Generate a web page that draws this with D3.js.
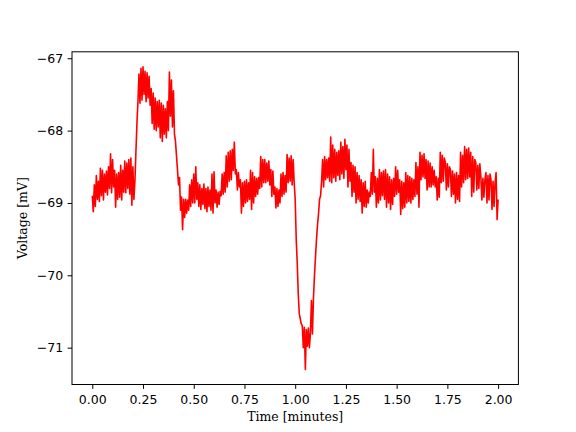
<!DOCTYPE html>
<html>
<head>
<meta charset="utf-8">
<script src="https://cdn.jsdelivr.net/npm/d3@7"></script>
<style>
  html, body { margin: 0; padding: 0; background: #fff; }
  svg { display: block; }
</style>
</head>
<body>
<svg id="chart" width="576" height="432"></svg>
<script>
// ---- data ----
const sampleStep = 0.005; // minutes between samples
const voltage = [
  -68.90,-69.12,-68.75,-69.05,-68.62,-68.95,-68.70,-68.98,-68.52,-68.90,
  -68.55,-68.96,-68.60,-68.85,-68.56,-68.89,-68.50,-68.80,-68.32,-68.86,
  -68.40,-68.78,-68.55,-69.06,-68.60,-68.95,-68.58,-68.92,-68.48,-68.96,
  -68.55,-68.85,-68.42,-68.86,-68.45,-68.80,-68.40,-68.88,-68.38,-69.03,
  -68.50,-68.95,-68.70,-68.30,-67.90,-67.60,-67.22,-67.62,-67.14,-67.58,
  -67.12,-67.50,-67.18,-67.60,-67.20,-67.55,-67.25,-67.65,-67.42,-67.90,
  -67.48,-67.98,-67.55,-68.00,-67.60,-67.95,-67.58,-68.10,-67.62,-68.15,
  -67.65,-68.05,-67.70,-68.10,-67.60,-68.00,-67.19,-67.80,-67.30,-67.95,
  -67.45,-68.05,-68.15,-68.35,-68.55,-68.75,-68.65,-69.10,-68.92,-69.37,
  -68.95,-69.20,-68.95,-69.14,-68.96,-69.10,-68.75,-69.05,-68.68,-69.00,
  -68.60,-69.00,-68.50,-68.95,-68.72,-69.05,-68.75,-69.09,-68.80,-69.02,
  -68.74,-69.08,-68.80,-69.12,-68.78,-69.05,-68.82,-69.10,-68.60,-69.14,
  -68.57,-69.00,-68.82,-69.06,-68.85,-69.02,-68.84,-68.90,-68.60,-68.88,
  -68.58,-68.85,-68.35,-68.78,-68.30,-68.70,-68.28,-68.68,-68.26,-68.55,
  -68.16,-68.60,-68.54,-68.82,-68.58,-68.78,-68.68,-69.14,-68.72,-69.05,
  -68.70,-69.00,-68.68,-68.98,-68.72,-68.95,-68.55,-69.09,-68.58,-69.00,
  -68.64,-68.91,-68.66,-68.88,-68.65,-68.80,-68.36,-68.78,-68.40,-68.72,
  -68.40,-68.72,-68.45,-68.70,-68.42,-68.75,-68.54,-68.91,-68.56,-68.88,
  -68.78,-69.07,-68.80,-69.05,-68.82,-69.00,-68.60,-68.91,-68.58,-68.88,
  -68.62,-68.85,-68.33,-68.72,-68.38,-68.70,-68.35,-68.75,-68.40,-68.72,
  -68.95,-69.50,-69.83,-70.25,-70.53,-70.60,-70.67,-70.70,-71.00,-70.72,
  -71.30,-70.75,-70.98,-70.73,-71.00,-70.80,-70.35,-70.81,-70.31,-70.00,
  -69.75,-69.50,-69.30,-69.15,-68.95,-68.90,-68.70,-68.40,-68.78,-68.36,
  -68.68,-68.40,-68.65,-68.38,-68.70,-68.09,-68.72,-68.20,-68.65,-68.26,
  -68.70,-68.30,-68.62,-68.28,-68.68,-68.16,-68.60,-68.22,-68.66,-68.12,
  -68.54,-68.20,-68.78,-68.26,-68.70,-68.44,-68.91,-68.48,-68.85,-68.50,
  -69.00,-68.58,-68.95,-68.62,-68.98,-68.68,-69.14,-68.72,-69.05,-68.70,
  -69.06,-68.82,-69.00,-68.85,-68.91,-68.58,-68.88,-68.26,-68.85,-68.64,
  -69.06,-68.66,-69.00,-68.54,-68.96,-68.58,-68.90,-68.56,-68.95,-68.54,
  -69.06,-68.60,-69.00,-68.64,-69.09,-68.68,-69.02,-68.66,-68.91,-68.50,
  -68.88,-68.55,-68.85,-68.68,-69.16,-68.70,-69.08,-68.72,-69.06,-68.58,
  -69.00,-68.62,-68.98,-68.64,-69.00,-68.66,-68.95,-68.68,-68.91,-68.44,
  -68.88,-68.50,-69.06,-68.30,-68.68,-68.34,-68.64,-68.32,-68.66,-68.40,
  -68.82,-68.42,-68.78,-68.45,-68.78,-68.50,-68.75,-68.55,-68.78,-68.64,
  -68.96,-68.66,-68.92,-68.30,-68.72,-68.34,-68.70,-68.38,-68.44,-68.82,
  -68.46,-68.78,-68.50,-68.54,-68.91,-68.56,-68.88,-68.60,-69.00,-68.58,
  -68.95,-68.62,-68.98,-68.30,-68.78,-68.34,-68.72,-68.22,-68.68,-68.26,
  -68.66,-68.24,-68.64,-68.30,-68.91,-68.36,-68.85,-68.40,-68.44,-68.82,
  -68.48,-68.80,-68.46,-68.64,-68.96,-68.66,-68.92,-68.68,-68.58,-69.00,
  -68.62,-68.96,-68.60,-68.68,-69.09,-68.70,-69.05,-68.72,-68.58,-69.23,
  -68.95
];
const xTicks = [0, 0.25, 0.5, 0.75, 1.0, 1.25, 1.5, 1.75, 2.0];
const yTicks = [-71, -70, -69, -68, -67];
const xLabel = "Time [minutes]";
const yLabel = "Voltage [mV]";

// ---- layout ----
const svg = d3.select("#chart");
const W = 576, H = 432;
const x0 = 72, x1 = 518.4, y0 = 51.8, y1 = 384.5;
const tickLen = 4.375;

const times = voltage.map((v, i) => i * sampleStep);
const tMin = d3.min(times), tMax = d3.max(times);
const vMin = d3.min(voltage), vMax = d3.max(voltage);
const tPad = (tMax - tMin) * 0.05, vPad = (vMax - vMin) * 0.05;

const x = d3.scaleLinear().domain([tMin - tPad, tMax + tPad]).range([x0, x1]);
const y = d3.scaleLinear().domain([vMin - vPad, vMax + vPad]).range([y1, y0]);

// clip
svg.append("defs").append("clipPath").attr("id", "clip")
  .append("rect").attr("x", x0).attr("y", y0).attr("width", x1 - x0).attr("height", y1 - y0);

// line
const line = d3.line().x((d, i) => x(times[i])).y(d => y(d));
svg.append("path")
  .datum(voltage)
  .attr("clip-path", "url(#clip)")
  .attr("fill", "none")
  .attr("stroke", "#ff0000")
  .attr("stroke-width", 1.6)
  .attr("stroke-linejoin", "round")
  .attr("d", line);

// axes
const fmt2 = d3.format(".2f");
const fmt0 = d3.format("d");
const xAxis = d3.axisBottom(x).tickValues(xTicks).tickFormat(fmt2).tickSizeOuter(0).tickSize(tickLen).tickPadding(4.375);
const yAxis = d3.axisLeft(y).tickValues(yTicks).tickFormat(fmt0).tickSizeOuter(0).tickSize(tickLen).tickPadding(4.375);

const gx = svg.append("g").attr("transform", `translate(0,${y1})`).call(xAxis);
const gy = svg.append("g").attr("transform", `translate(${x0},0)`).call(yAxis);
[gx, gy].forEach(g => {
  g.select(".domain").remove();
  g.selectAll(".tick line").attr("stroke", "#000").attr("stroke-width", 1);
  g.selectAll(".tick text").attr("fill", "#000")
    .style("font-family", "'DejaVu Sans', sans-serif").style("font-size", "12.5px");
});
gx.selectAll(".tick text").attr("y", 19.3).attr("dy", 0);

// spines
svg.append("rect").attr("x", x0).attr("y", y0).attr("width", x1 - x0).attr("height", y1 - y0)
  .attr("fill", "none").attr("stroke", "#000").attr("stroke-width", 1);

// labels
svg.append("text").attr("x", (x0 + x1) / 2).attr("y", 421)
  .attr("text-anchor", "middle")
  .style("font-family", "'DejaVu Serif', serif").style("font-size", "12.5px")
  .text(xLabel);
svg.append("text")
  .attr("transform", `translate(26.5,${(y0 + y1) / 2}) rotate(-90)`)
  .attr("text-anchor", "middle")
  .style("font-family", "'DejaVu Serif', serif").style("font-size", "12.5px")
  .text(yLabel);
</script>
</body>
</html>
